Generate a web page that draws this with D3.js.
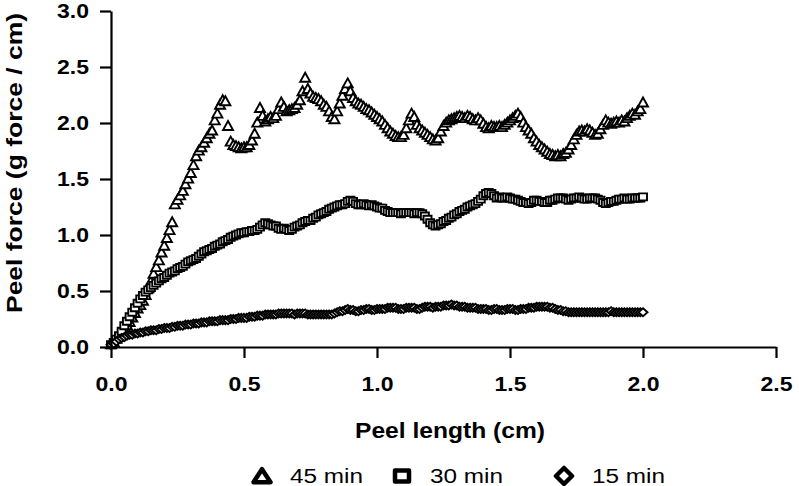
<!DOCTYPE html>
<html>
<head>
<meta charset="utf-8">
<script src="https://cdn.jsdelivr.net/npm/d3@7"></script>
<style>
  html, body { margin: 0; padding: 0; background: #fff; }
  svg { display: block; }
  text { font-family: "Liberation Sans", Arial, sans-serif; fill: #000; }
</style>
</head>
<body>
<svg id="chart" width="799" height="486"></svg>
<script>
// ---- DATA ----
const peelLength = [
0.00,0.01,0.02,0.03,0.04,0.05,0.06,0.07,0.08,0.09,0.10,0.11,0.12,0.13,0.14,0.15,0.16,0.17,0.18,0.19,
0.20,0.21,0.22,0.23,0.24,0.25,0.26,0.27,0.28,0.29,0.30,0.31,0.32,0.33,0.34,0.35,0.36,0.37,0.38,0.39,
0.40,0.41,0.42,0.43,0.44,0.45,0.46,0.47,0.48,0.49,0.50,0.51,0.52,0.53,0.54,0.55,0.56,0.57,0.58,0.59,
0.60,0.61,0.62,0.63,0.64,0.65,0.66,0.67,0.68,0.69,0.70,0.71,0.72,0.73,0.74,0.75,0.76,0.77,0.78,0.79,
0.80,0.81,0.82,0.83,0.84,0.85,0.86,0.87,0.88,0.89,0.90,0.91,0.92,0.93,0.94,0.95,0.96,0.97,0.98,0.99,
1.00,1.01,1.02,1.03,1.04,1.05,1.06,1.07,1.08,1.09,1.10,1.11,1.12,1.13,1.14,1.15,1.16,1.17,1.18,1.19,
1.20,1.21,1.22,1.23,1.24,1.25,1.26,1.27,1.28,1.29,1.30,1.31,1.32,1.33,1.34,1.35,1.36,1.37,1.38,1.39,
1.40,1.41,1.42,1.43,1.44,1.45,1.46,1.47,1.48,1.49,1.50,1.51,1.52,1.53,1.54,1.55,1.56,1.57,1.58,1.59,
1.60,1.61,1.62,1.63,1.64,1.65,1.66,1.67,1.68,1.69,1.70,1.71,1.72,1.73,1.74,1.75,1.76,1.77,1.78,1.79,
1.80,1.81,1.82,1.83,1.84,1.85,1.86,1.87,1.88,1.89,1.90,1.91,1.92,1.93,1.94,1.95,1.96,1.97,1.98,1.99,
2.00];

const force45 = [
0.02,0.04,0.07,0.09,0.12,0.15,0.19,0.22,0.26,0.30,0.34,0.37,0.41,0.46,0.52,0.58,0.65,0.71,0.77,0.84,
0.90,0.97,1.04,1.11,1.27,1.31,1.35,1.39,1.45,1.50,1.55,1.62,1.70,1.75,1.78,1.82,1.86,1.90,1.93,2.02,
2.08,2.16,2.20,2.19,1.97,1.83,1.80,1.79,1.78,1.77,1.78,1.78,1.80,1.84,1.90,2.00,2.13,2.06,2.01,2.03,
2.05,2.04,2.06,2.12,2.18,2.14,2.10,2.11,2.12,2.13,2.16,2.20,2.28,2.40,2.30,2.26,2.23,2.22,2.21,2.19,
2.16,2.14,2.10,2.05,2.03,2.10,2.17,2.24,2.30,2.35,2.28,2.22,2.19,2.17,2.16,2.14,2.12,2.11,2.09,2.07,
2.05,2.03,2.01,1.98,1.95,1.92,1.90,1.88,1.87,1.87,1.89,1.95,2.02,2.08,2.05,1.98,1.95,1.93,1.91,1.89,
1.87,1.85,1.84,1.86,1.92,1.97,2.00,2.02,2.03,2.04,2.05,2.06,2.05,2.04,2.06,2.05,2.03,2.02,2.04,2.02,
1.99,1.96,1.95,1.97,1.96,1.96,1.97,1.96,1.98,2.00,2.02,2.04,2.06,2.08,2.05,2.00,1.96,1.93,1.90,1.86,
1.83,1.80,1.78,1.76,1.74,1.72,1.71,1.70,1.71,1.70,1.72,1.73,1.76,1.80,1.85,1.89,1.92,1.93,1.92,1.94,
1.93,1.91,1.89,1.90,1.94,1.98,2.02,2.00,1.99,2.00,2.01,2.00,2.02,2.01,2.04,2.06,2.08,2.07,2.10,2.12,
2.18];

const force30 = [
0.02,0.04,0.07,0.10,0.14,0.19,0.23,0.27,0.31,0.35,0.39,0.43,0.46,0.49,0.51,0.53,0.55,0.57,0.59,0.61,
0.62,0.64,0.66,0.67,0.68,0.70,0.71,0.72,0.74,0.76,0.77,0.78,0.79,0.81,0.83,0.85,0.86,0.87,0.88,0.90,
0.91,0.92,0.94,0.95,0.96,0.98,0.99,1.00,1.01,1.02,1.02,1.03,1.03,1.04,1.04,1.05,1.07,1.09,1.11,1.10,
1.09,1.08,1.08,1.06,1.05,1.06,1.05,1.04,1.05,1.07,1.08,1.09,1.11,1.12,1.13,1.13,1.15,1.16,1.18,1.19,
1.20,1.21,1.23,1.24,1.25,1.26,1.27,1.27,1.28,1.30,1.31,1.30,1.28,1.27,1.27,1.28,1.27,1.26,1.27,1.26,
1.25,1.24,1.24,1.22,1.21,1.20,1.20,1.20,1.20,1.19,1.20,1.20,1.20,1.20,1.19,1.20,1.20,1.19,1.17,1.14,
1.11,1.09,1.08,1.09,1.10,1.12,1.13,1.15,1.16,1.18,1.19,1.21,1.22,1.23,1.25,1.26,1.27,1.28,1.30,1.32,
1.35,1.37,1.38,1.37,1.35,1.33,1.34,1.33,1.33,1.34,1.33,1.32,1.32,1.31,1.30,1.29,1.29,1.28,1.29,1.31,
1.31,1.30,1.30,1.29,1.29,1.31,1.31,1.32,1.33,1.33,1.33,1.32,1.31,1.32,1.33,1.33,1.34,1.33,1.32,1.32,
1.33,1.33,1.33,1.32,1.31,1.29,1.28,1.29,1.30,1.30,1.31,1.32,1.32,1.33,1.32,1.32,1.33,1.33,1.33,1.33,
1.34];

const force15 = [
0.02,0.03,0.05,0.07,0.08,0.09,0.10,0.11,0.11,0.12,0.12,0.13,0.13,0.14,0.14,0.15,0.15,0.15,0.16,0.16,
0.17,0.17,0.17,0.18,0.18,0.19,0.19,0.19,0.20,0.20,0.20,0.21,0.21,0.21,0.22,0.22,0.22,0.23,0.23,0.23,
0.23,0.24,0.24,0.24,0.24,0.25,0.25,0.25,0.26,0.26,0.26,0.26,0.27,0.27,0.27,0.28,0.28,0.28,0.29,0.29,
0.29,0.29,0.29,0.30,0.30,0.30,0.30,0.30,0.30,0.29,0.30,0.30,0.30,0.30,0.29,0.29,0.29,0.29,0.29,0.29,
0.29,0.29,0.29,0.29,0.30,0.31,0.32,0.32,0.33,0.34,0.33,0.33,0.32,0.32,0.33,0.33,0.34,0.34,0.33,0.33,
0.34,0.34,0.34,0.34,0.35,0.35,0.35,0.35,0.34,0.34,0.34,0.35,0.35,0.35,0.35,0.34,0.34,0.35,0.36,0.36,
0.36,0.35,0.36,0.36,0.36,0.37,0.37,0.37,0.38,0.37,0.37,0.36,0.36,0.36,0.35,0.35,0.35,0.35,0.34,0.34,
0.34,0.34,0.33,0.33,0.34,0.34,0.33,0.33,0.33,0.34,0.34,0.34,0.33,0.33,0.34,0.34,0.34,0.35,0.35,0.35,
0.36,0.36,0.36,0.36,0.36,0.35,0.35,0.34,0.33,0.33,0.32,0.32,0.31,0.31,0.31,0.31,0.31,0.31,0.31,0.31,
0.31,0.31,0.31,0.31,0.31,0.31,0.31,0.31,0.32,0.31,0.31,0.31,0.31,0.31,0.31,0.31,0.31,0.31,0.31,0.31,
0.31];

const seriesNames = ["45 min", "30 min", "15 min"];
const seriesValues = [force45, force30, force15];
const seriesSymbols = ["triangle", "square", "diamond"];
const xTicks = [0.0, 0.5, 1.0, 1.5, 2.0, 2.5];
const yTicks = [0.0, 0.5, 1.0, 1.5, 2.0, 2.5, 3.0];
const xTitle = "Peel length (cm)";
const yTitle = "Peel force (g force / cm)";

// ---- CHART ----
const svg = d3.select("#chart");
const x = d3.scaleLinear().domain([0, 2.5]).range([111, 776]);
const y = d3.scaleLinear().domain([0, 3]).range([347, 11]);

function markerPath(type, w, h) {
  if (type === "triangle") {
    return `M0,${-h*0.6}L${w/2},${h*0.4}L${-w/2},${h*0.4}Z`;
  } else if (type === "square") {
    return `M${-w/2},${-h/2}L${w/2},${-h/2}L${w/2},${h/2}L${-w/2},${h/2}Z`;
  } else {
    return `M0,${-h/2}L${w/2},0L0,${h/2}L${-w/2},0Z`;
  }
}
const markerDims = {triangle: [10, 9], square: [8, 7], diamond: [9, 8]};

// data series
seriesValues.forEach((vals, si) => {
  const sym = seriesSymbols[si];
  const [w, h] = markerDims[sym];
  svg.append("g")
    .selectAll("path")
    .data(vals.map((v, i) => [peelLength[i], v]))
    .join("path")
    .attr("transform", d => `translate(${x(d[0])},${y(d[1])})`)
    .attr("d", markerPath(sym, w, h))
    .attr("fill", "#fff")
    .attr("stroke", "#000")
    .attr("stroke-width", 1.9);
});

// axes
const xAxis = d3.axisBottom(x).tickValues(xTicks).tickFormat(d3.format(".1f")).tickSizeInner(11).tickSizeOuter(0).tickPadding(18);
const yAxis = d3.axisLeft(y).tickValues(yTicks).tickFormat(d3.format(".1f")).tickSizeInner(11).tickSizeOuter(0).tickPadding(11);

const gx = svg.append("g").attr("transform", `translate(0,${y(0)})`).call(xAxis);
const gy = svg.append("g").attr("transform", `translate(${x(0)},0)`).call(yAxis);
[gx, gy].forEach(g => {
  g.select(".domain").attr("stroke", "#000").attr("stroke-width", 2.2);
  g.selectAll(".tick line").attr("stroke", "#000").attr("stroke-width", 2.2);
  g.selectAll(".tick text")
    .attr("font-family", "'Liberation Sans', Arial, sans-serif")
    .attr("font-size", 21).attr("font-weight", "bold").attr("fill", "#000")
    .attr("textLength", 32).attr("lengthAdjust", "spacingAndGlyphs");
});

// titles
svg.append("text")
  .attr("x", 450).attr("y", 438)
  .attr("text-anchor", "middle")
  .attr("font-size", 22).attr("font-weight", "bold")
  .attr("textLength", 190).attr("lengthAdjust", "spacingAndGlyphs")
  .text(xTitle);

svg.append("text")
  .attr("transform", `translate(22,163) rotate(-90)`)
  .attr("text-anchor", "middle")
  .attr("font-size", 22).attr("font-weight", "bold")
  .attr("textLength", 300).attr("lengthAdjust", "spacingAndGlyphs")
  .text(yTitle);

// legend
const legendX = [262, 402, 564];
const legendDims = {triangle: [17, 13], square: [14, 11], diamond: [16, 16]};
const legend = svg.append("g");
seriesNames.forEach((name, i) => {
  const sym = seriesSymbols[i];
  const [w, h] = legendDims[sym];
  legend.append("path")
    .attr("transform", `translate(${legendX[i]},${sym === "triangle" ? 477 : 476})`)
    .attr("d", markerPath(sym, w, h))
    .attr("fill", "#fff").attr("stroke", "#000").attr("stroke-width", 4.5)
    .attr("stroke-linejoin", "round");
  legend.append("text")
    .attr("x", legendX[i] + 28).attr("y", 483)
    .attr("font-size", 20)
    .attr("textLength", 73).attr("lengthAdjust", "spacingAndGlyphs")
    .text(name);
});
</script>
</body>
</html>
